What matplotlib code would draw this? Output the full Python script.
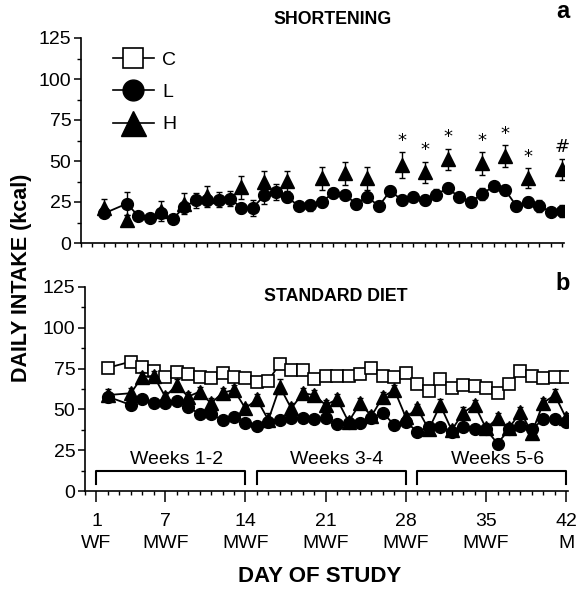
import matplotlib
matplotlib.use('Agg')
import matplotlib.pyplot as plt
from matplotlib.lines import Line2D
from matplotlib.ticker import MultipleLocator

plt.rcParams['font.family'] = ['Liberation Sans', 'DejaVu Sans']

# ---------------- data ----------------
days = [2, 4, 5, 6, 7, 8, 9, 10, 11, 12, 13, 14, 15, 16, 17, 18, 19, 20, 21, 22,
        23, 24, 25, 26, 27, 28, 29, 30, 31, 32, 33, 34, 35, 36, 37, 38, 39, 40, 41, 42]

# Panel a: shortening intake
short_L = [18, 24, 16.5, 15.5, 18, 14.5, 22, 26, 26, 26.5, 27, 21.5, 21.5, 29, 31, 28, 22.5, 23, 25, 30.5,
           29.5, 24, 28, 22.5, 32, 26, 28, 26, 29.5, 33.5, 28, 25, 30, 34.5, 32.5, 22.5, 25, 22.5, 19, 19.5]
short_L_err = [2, 7, 2, 2, 2, 1.5, 3, 4.5, 3, 4.5, 4.5, 3, 5, 5, 5, 3, 2.5, 3.5, 3, 3,
               3, 3, 3, 3, 3, 3, 3, 3, 3.5, 3, 3, 2.5, 3.5, 3, 3, 3, 3, 3.5, 2.5, 3.5]

short_H_days = [2, 4, 7, 9, 11, 14, 16, 18, 21, 23, 25, 28, 30, 32, 35, 37, 39, 42]
short_H = [21.5, 14, 19.5, 24, 28.5, 34, 37, 38, 39.5, 42.5, 39.5, 47.5, 43, 51, 48.5, 53, 39.5, 45]
short_H_err = [5.5, 3, 6, 6.5, 6.5, 7, 7, 6, 7, 7, 7, 8, 6.5, 6.5, 7, 6.5, 6, 6.5]
short_H_marks = ['', '', '', '', '', '', '', '', '', '', '', '*', '*', '*', '*', '*', '*', '#']

# Panel b: standard diet intake
chow_C = [75.5, 79.3, 76, 73.5, 70, 73, 71.7, 69.7, 69, 72.5, 69.7, 69, 66.5, 67.6, 78, 74.2, 74.4, 68.5, 70.5, 70.5,
          70.5, 71.7, 75.2, 70.5, 69.7, 72.5, 65.6, 61.5, 68.5, 62.9, 65, 64.4, 62.9, 60.2, 65.6, 73.8, 70.5, 69.1, 69.7, 69.7]
chow_C_err = [1.5, 1.5, 1.5, 1.5, 1.5, 1.5, 1.5, 1.5, 1.5, 1.5, 1.5, 1.5, 1.5, 1.5, 1.5, 1.5, 1.5, 1.5, 1.5, 1.5,
              1.5, 1.5, 1.5, 1.5, 1.5, 1.5, 1.5, 1.5, 1.5, 1.5, 1.5, 1.5, 1.5, 1.5, 1.5, 1.5, 1.5, 1.5, 1.5, 1.5]
chow_L = [57.8, 52.7, 56.2, 53.7, 53.7, 55.1, 51.6, 47.1, 47.1, 43.5, 45.5, 41.4, 39.8, 42.4, 43.5, 44.5, 44.5, 43.9, 44.5, 41,
          41.4, 41.4, 44.5, 47.9, 40.4, 42.4, 36.3, 39, 39, 36.3, 39, 37.7, 37.7, 29.1, 37.7, 39.8, 38, 43.9, 43.9, 42]
chow_L_err = [2, 2, 2, 2, 2, 2, 2, 2, 2, 2, 2, 2, 2.5, 2, 2, 2, 2, 2, 2, 2,
              2, 2, 2, 2, 2, 2, 2, 2, 2, 2, 2, 2, 2, 2.5, 2, 2, 2, 2, 2, 2]
chow_H = [58.8, 59.9, 70.1, 70.5, 57.8, 65, 57.8, 60.9, 53.7, 60.2, 61.9, 50.6, 56.2, 43.5, 63.9, 50.6, 59.9, 58.8, 52.7, 56.2,
          42.4, 53.7, 45.9, 57.8, 61.9, 45.1, 50.6, 37.7, 52.7, 37.3, 47.9, 52.7, 38.4, 44.5, 38.4, 48.6, 35.6, 54.1, 58.8, 44.5]
chow_H_err = [4, 3, 3, 3, 3, 3.5, 3, 3, 3, 3, 3, 3, 3, 4.5, 4.5, 3.5, 3, 3, 3, 3,
              3, 3, 3, 3, 3, 3, 3, 3, 3.5, 3, 3.5, 3, 3, 3, 3, 3, 3, 3, 3.5, 3]

x_ticks = [1, 7, 14, 21, 28, 35, 42]
x_ticklabels = ['1\nWF', '7\nMWF', '14\nMWF', '21\nMWF', '28\nMWF', '35\nMWF', '42\nM']
y_ticks = [0, 25, 50, 75, 100, 125]

bracket_start = [1, 15, 29]
bracket_end = [14, 28, 42]
bracket_labels = ['Weeks 1-2', 'Weeks 3-4', 'Weeks 5-6']

# ---------------- figure ----------------
W, H = 577, 589
fig = plt.figure(figsize=(W / 100, H / 100), dpi=100)


def px_axes(l, t, r, b):
    return [l / W, 1 - b / H, (r - l) / W, (b - t) / H]


ax1 = fig.add_axes(px_axes(81, 38, 564, 243))
ax2 = fig.add_axes(px_axes(85, 287, 568, 491))

tick_fs = 14
for ax in (ax1, ax2):
    ax.set_xlim(0, 42.15)
    ax.set_ylim(0, 125)
    for s in ('top', 'right'):
        ax.spines[s].set_visible(False)
    for s in ('left', 'bottom'):
        ax.spines[s].set_linewidth(1.2)
    ax.set_yticks(y_ticks)
    ax.yaxis.set_minor_locator(MultipleLocator(12.5))
    ax.xaxis.set_minor_locator(MultipleLocator(1))
    ax.tick_params(axis='y', which='major', length=5, width=1.1, labelsize=tick_fs, pad=2)
    ax.tick_params(axis='y', which='minor', length=3, width=1)
    ax.tick_params(axis='x', which='minor', length=3, width=1)

ax1.set_xticks(x_ticks)
ax1.set_xticklabels([])
ax1.tick_params(axis='x', which='major', length=3, width=1)
ax2.set_xticks(x_ticks)
ax2.set_xticklabels(x_ticklabels, fontsize=tick_fs, linespacing=1.45)
ax2.tick_params(axis='x', which='major', length=8, width=1.1, pad=7.5)

ekw = dict(capsize=2.5, elinewidth=1, capthick=1, color='k')

# Panel a
ax1.errorbar(days, short_L, yerr=short_L_err, fmt='-o', ms=8.5, lw=1.3,
             mfc='k', mec='k', zorder=3, **ekw)
ax1.errorbar(short_H_days, short_H, yerr=short_H_err, fmt='^', ms=10,
             mfc='k', mec='k', zorder=4, **ekw)
for d, v, e, m in zip(short_H_days, short_H, short_H_err, short_H_marks):
    if m:
        ax1.text(d, v + e + 1.5, m, ha='center', va='bottom', fontsize=13,
                 family=['DejaVu Sans'])

# Panel b
ax2.errorbar(days, chow_C, yerr=chow_C_err, fmt='-s', ms=8, lw=1.3,
             mfc='white', mec='k', mew=1.2, zorder=3, **ekw)
ax2.errorbar(days, chow_L, yerr=chow_L_err, fmt='-o', ms=8.5, lw=1.3,
             mfc='k', mec='k', zorder=4, **ekw)
ax2.errorbar(days, chow_H, yerr=chow_H_err, fmt='-^', ms=10, lw=1.3,
             mfc='k', mec='k', zorder=5, **ekw)

for s, e, lab in zip(bracket_start, bracket_end, bracket_labels):
    ax2.plot([s, s, e, e], [4, 12.3, 12.3, 4], color='k', lw=1.5, zorder=2)
    ax2.text((s + e) / 2 + 0.5, 19, lab, ha='center', va='center', fontsize=14)

# Legend
handles = [
    Line2D([], [], color='k', lw=1.2, marker='s', ms=14, mfc='white', mec='k', mew=1.2),
    Line2D([], [], color='k', lw=1.2, marker='o', ms=15, mfc='k', mec='k'),
    Line2D([], [], color='k', lw=1.2, marker='^', ms=18, mfc='k', mec='k'),
]
ax1.legend(handles, ['C', 'L', 'H'], loc='upper left', bbox_to_anchor=(0.066, 0.935),
           frameon=False, fontsize=14, handlelength=2.1, handletextpad=0.45,
           borderpad=0, borderaxespad=0, labelspacing=0.75)

# Titles and labels
ax1.text(0.52, 1.09, 'SHORTENING', transform=ax1.transAxes, ha='center', va='center',
         fontsize=12.8, fontweight='bold')
ax2.text(0.52, 0.955, 'STANDARD DIET', transform=ax2.transAxes, ha='center', va='center',
         fontsize=12.8, fontweight='bold')
fig.text(563 / W, 1 - 11 / H, 'a', ha='center', va='center', fontsize=17, fontweight='bold')
fig.text(563 / W, 1 - 284 / H, 'b', ha='center', va='center', fontsize=17, fontweight='bold')
fig.text(22 / W, 1 - 278 / H, 'DAILY INTAKE (kcal)', rotation=90, ha='center', va='center',
         fontsize=15.5, fontweight='bold')
fig.text(320 / W, 1 - 577 / H, 'DAY OF STUDY', ha='center', va='center',
         fontsize=16, fontweight='bold')

fig.savefig('out.png', dpi=100)
